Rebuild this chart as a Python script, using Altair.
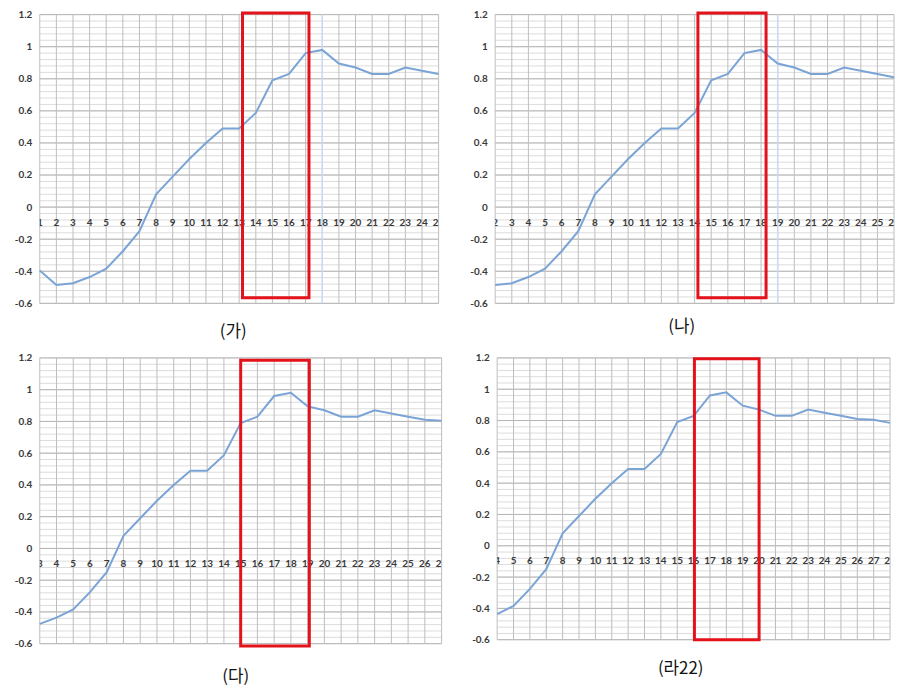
import altair as alt
import pandas as pd

# ---- data ----
X_ALL = list(range(1, 29))
VALUES = [-0.395, -0.486, -0.475, -0.436, -0.384, -0.275, -0.15, 0.08, 0.19, 0.30,
          0.40, 0.49, 0.49, 0.587, 0.79, 0.83, 0.96, 0.98, 0.895, 0.87,
          0.83, 0.83, 0.87, 0.85, 0.83, 0.81, 0.805, 0.785]
PANEL_START = [1, 2, 3, 4]
PANEL_END = [25, 26, 27, 28]
CAPTIONS = ["(가)", "(나)", "(다)", "(라22)"]
RECT_X0 = [13.2, 14.2, 15.0, 16.05]
RECT_X1 = [17.2, 18.3, 19.1, 20.0]
RECT_TOP = [1.21, 1.21, 1.185, 1.195]
RECT_BOTTOM = [-0.565, -0.565, -0.615, -0.6]
HILITE_X = [[18], [19], [], []]
Y_MAJOR = [-0.6, -0.4, -0.2, 0, 0.2, 0.4, 0.6, 0.8, 1.0, 1.2]
Y_MINOR = [round(-0.6 + 0.04 * i, 2) for i in range(46)]
X_LABEL_Y = -0.1

# ---- layout / style ----
PANEL_W = [402, 402, 405, 396]
PANEL_H = [291, 291, 288, 284]
TITLE_OFFSET = [16, 11, 21, 17]
TITLE_DX = [-6, -13, -5, -13]
LABEL_FONT = "Lato"
LABEL_COLOR = "#3a3a3a"
LINE_COLOR = "#7ba4d6"


def panel(i):
    s, e = PANEL_START[i], PANEL_END[i]
    w, h = PANEL_W[i], PANEL_H[i]
    xs_vals = X_ALL[s - 1:e]
    df = pd.DataFrame({"x": xs_vals, "y": VALUES[s - 1:e]})
    xsc = alt.Scale(domain=[s, e], nice=False, zero=False)
    ysc = alt.Scale(domain=[-0.6, 1.2], nice=False, zero=False)

    y_axis = alt.Axis(
        values=Y_MAJOR, domain=False, ticks=False, grid=False, title=None,
        labelExpr="datum.value == 0 ? '0' : toString(round(datum.value * 10) / 10)",
        labelPadding=8, minExtent=30, maxExtent=30, labelFont=LABEL_FONT,
        labelFontSize=10, labelFontWeight="bold", labelColor=LABEL_COLOR)

    minor = alt.Chart(pd.DataFrame({"y": Y_MINOR})).mark_rule(
        color="#dcdcdc", strokeWidth=1
    ).encode(y=alt.Y("y:Q", scale=ysc, axis=y_axis))

    major = alt.Chart(pd.DataFrame({"y": Y_MAJOR})).mark_rule(
        color="#b4b4b4", strokeWidth=1
    ).encode(y=alt.Y("y:Q", scale=ysc, axis=y_axis))

    vgrid = alt.Chart(pd.DataFrame({"x": xs_vals})).mark_rule(
        color="#bdbdbd", strokeWidth=1
    ).encode(x=alt.X("x:Q", scale=xsc, axis=None))

    layers = [minor, major, vgrid]
    if HILITE_X[i]:
        layers.append(alt.Chart(pd.DataFrame({"x": HILITE_X[i]})).mark_rule(
            color="#c9dcf3", strokeWidth=1.5
        ).encode(x=alt.X("x:Q", scale=xsc, axis=None)))

    xlabels = alt.Chart(pd.DataFrame({"x": xs_vals})).mark_text(
        clip=True, font=LABEL_FONT, fontSize=10, fontWeight="bold",
        color=LABEL_COLOR, baseline="middle", align="center"
    ).encode(
        x=alt.X("x:Q", scale=xsc, axis=None),
        y=alt.Y("ly:Q", scale=ysc, axis=y_axis),
        text=alt.Text("x:Q"),
    ).transform_calculate(ly=str(X_LABEL_Y))

    line = alt.Chart(df).mark_line(color=LINE_COLOR, strokeWidth=2).encode(
        x=alt.X("x:Q", scale=xsc, axis=None),
        y=alt.Y("y:Q", scale=ysc, axis=y_axis),
    )

    rect = alt.Chart(pd.DataFrame({
        "x0": [RECT_X0[i]], "x1": [RECT_X1[i]],
        "y0": [RECT_TOP[i]], "y1": [RECT_BOTTOM[i]],
    })).mark_rect(fillOpacity=0, stroke="#e3121b", strokeWidth=3).encode(
        x=alt.X("x0:Q", scale=xsc, axis=None), x2="x1:Q",
        y=alt.Y("y0:Q", scale=ysc, axis=y_axis), y2="y1:Q",
    )

    layers += [xlabels, line, rect]
    return alt.layer(*layers).properties(
        width=w, height=h,
        title=alt.TitleParams(
            text=CAPTIONS[i], orient="bottom", offset=TITLE_OFFSET[i],
            dx=TITLE_DX[i], frame="group", anchor="middle",
            font="Noto Sans CJK KR", fontSize=17, fontWeight="normal",
            color="#111111"),
    )


top = alt.hconcat(panel(0), panel(1), spacing=23)
bottom = alt.hconcat(panel(2), panel(3), spacing=22)
chart = alt.vconcat(top, bottom, spacing=13).properties(
    padding={"left": 2, "top": -1, "right": 0, "bottom": 0},
    background="white",
).configure_view(stroke=None)

chart.save("out.html", embed_options={"renderer": "svg", "actions": False})
